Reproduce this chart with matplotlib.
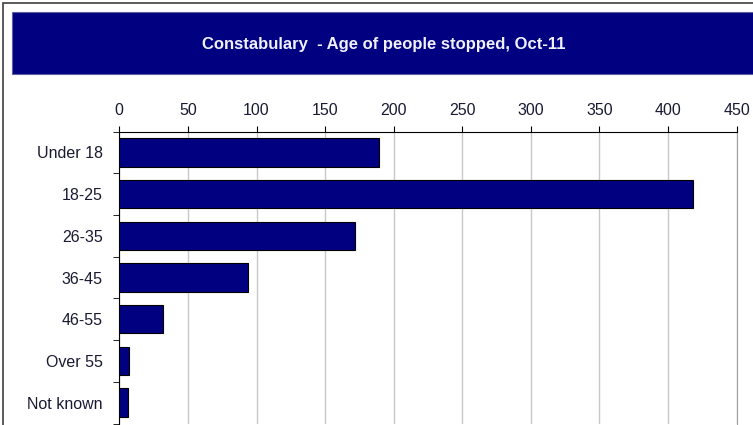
import numpy as np
import matplotlib
matplotlib.use('Agg')
from matplotlib import pyplot as plt
from matplotlib.patches import Rectangle

plt.rcParams['font.family'] = ['Liberation Sans', 'DejaVu Sans']

categories = ['Under 18', '18-25', '26-35', '36-45', '46-55', 'Over 55', 'Not known']
counts = [189, 418, 172, 94, 32, 7, 6]
xticks = [0, 50, 100, 150, 200, 250, 300, 350, 400, 450]
title = 'Constabulary  - Age of people stopped, Oct-11'

navy = '#000080'
text_col = '#1a1a33'

fig = plt.figure(figsize=(7.53, 4.25), dpi=100)

# outer frame and title banner (behind the axes)
fig.patches.append(Rectangle((3 / 753, -0.01), 1.0, 1 - 3 / 425 + 0.01, transform=fig.transFigure,
                             facecolor='white', edgecolor='#404040', linewidth=1.2, zorder=-2))
fig.patches.append(Rectangle((12 / 753, 1 - 74 / 425), 1.0, 62 / 425, transform=fig.transFigure,
                             facecolor=navy, edgecolor='#6060a0', linewidth=0.8, zorder=-1))
fig.text(384 / 753, 1 - 44 / 425, title, color='#f0f0ff', fontsize=12, fontweight='bold',
         ha='center', va='center')

ax = fig.add_axes([119.3 / 753, 1.5 / 425, 617.4 / 753, 292 / 425])
ax.set_zorder(1)
y = np.arange(len(categories))
ax.barh(y, counts, height=0.68, color=navy, edgecolor='black', linewidth=0.8, zorder=3)

ax.set_xlim(0, 450)
ax.set_ylim(len(categories) - 0.5, -0.5)
ax.xaxis.tick_top()
ax.set_xticks(xticks)
ax.set_xticklabels([str(v) for v in xticks], fontsize=11.5, color=text_col)
ax.tick_params(axis='x', direction='out', length=4, pad=6, color='black')

ax.set_yticks(y)
ax.set_yticklabels(categories, fontsize=11.5, color=text_col)
ax.set_yticks(np.arange(len(categories) + 1) - 0.5, minor=True)
ax.tick_params(axis='y', which='major', length=0, pad=12)
ax.tick_params(axis='y', which='minor', direction='out', length=4)

ax.grid(axis='x', color='#c8c8c8', linewidth=1, zorder=0)
ax.spines['bottom'].set_visible(False)
ax.spines['right'].set_color('#a0a0a0')
ax.spines['left'].set_color('black')
ax.spines['top'].set_color('black')

fig.savefig('out.png', dpi=100)
